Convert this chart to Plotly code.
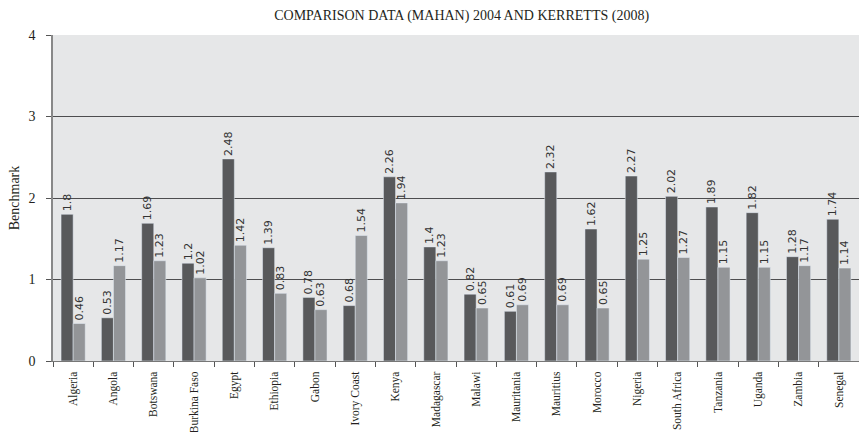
import plotly.graph_objects as go

countries = ["Algeria", "Angola", "Botswana", "Burkina Faso", "Egypt", "Ethiopia", "Gabon",
             "Ivory Coast", "Kenya", "Madagascar", "Malawi", "Mauritania", "Mauritius", "Morocco",
             "Nigeria", "South Africa", "Tanzania", "Uganda", "Zambia", "Senegal"]
mahan = [1.8, 0.53, 1.69, 1.2, 2.48, 1.39, 0.78, 0.68, 2.26, 1.4, 0.82, 0.61, 2.32, 1.62,
         2.27, 2.02, 1.89, 1.82, 1.28, 1.74]
kerretts = [0.46, 1.17, 1.23, 1.02, 1.42, 0.83, 0.63, 1.54, 1.94, 1.23, 0.65, 0.69, 0.69, 0.65,
            1.25, 1.27, 1.15, 1.15, 1.17, 1.14]

serif = "Liberation Serif"
label_font = dict(family="DejaVu Sans", size=11, color="#333333")

fig = go.Figure()
fig.add_trace(go.Bar(x=countries, y=mahan, name="Mahan (2004)", marker_color="#58595b",
                     text=[str(v) for v in mahan], textposition="outside", textangle=-90,
                     textfont=label_font, cliponaxis=False))
fig.add_trace(go.Bar(x=countries, y=kerretts, name="Kerretts (2008)", marker_color="#939598",
                     text=[str(v) for v in kerretts], textposition="outside", textangle=-90,
                     textfont=label_font, cliponaxis=False))

fig.update_layout(
    width=859, height=432,
    margin=dict(l=53, r=0, t=35, b=71, autoexpand=False),
    paper_bgcolor="white", plot_bgcolor="#e6e7e8",
    barmode="group", bargap=0.4, bargroupgap=0,
    showlegend=False,
    title=dict(text="COMPARISON DATA (MAHAN) 2004 AND KERRETTS (2008)", xref="paper", x=0.507,
               xanchor="center", y=0.965, yanchor="middle",
               font=dict(family=serif, size=14, color="#231f20")),
    uniformtext=dict(mode="show", minsize=8),
)
fig.update_xaxes(tickangle=-90, tickfont=dict(family=serif, size=11.5, color="#231f20"),
                 ticks="outside", tickson="boundaries", ticklen=5, tickcolor="#555",
                 ticklabelstandoff=5,
                 showline=True, linecolor="#777", linewidth=1, showgrid=False)
fig.update_yaxes(range=[0, 4], dtick=1, tickfont=dict(family=serif, size=14, color="#231f20"),
                 ticks="outside", ticklen=5, tickcolor="#555", ticklabelstandoff=8,
                 showline=True, linecolor="#888", linewidth=1.5,
                 showgrid=True, gridcolor="#4d4d4f", gridwidth=1.2, zeroline=False,
                 title=dict(text="Benchmark", font=dict(family=serif, size=14, color="#231f20"),
                            standoff=6))

fig.write_html("out.html", config={"displayModeBar": False},
               post_script="document.body.style.margin='0px';")
